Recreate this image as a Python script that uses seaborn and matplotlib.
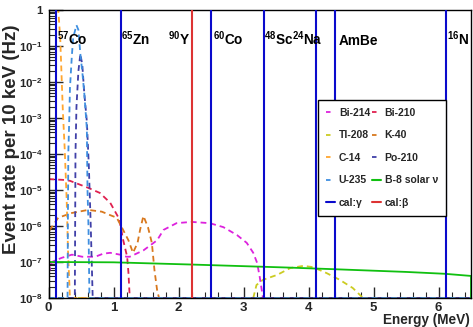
import numpy as np
import pandas as pd
import matplotlib
matplotlib.use("Agg")
import matplotlib.pyplot as plt
import matplotlib.transforms as mtrans
from matplotlib.lines import Line2D
from matplotlib.ticker import FixedLocator, FixedFormatter, MultipleLocator, NullFormatter
import seaborn as sns

# ---------------- data ----------------
bi214_x = [0.0, 0.02, 0.05, 0.2, 0.36, 0.52, 0.72, 0.84, 0.95, 1.1, 1.2, 1.25, 1.46, 1.67, 1.77, 1.97, 2.2, 2.48, 2.69, 2.9, 3.05, 3.15, 3.21, 3.25, 3.3, 6.5]
bi214_y = [1.4e-7, 6e-8, 1.0e-7, 1.3e-7, 1.6e-7, 1.4e-7, 1.4e-7, 1.7e-7, 1.8e-7, 1.6e-7, 1.4e-7, 1.4e-7, 2.1e-7, 4e-7, 7.8e-7, 1.2e-6, 1.3e-6, 1.2e-6, 9.3e-7, 5.6e-7, 3.4e-7, 1.8e-7, 9.4e-8, 3.8e-8, 1e-8, 1e-8]

bi210_x = [0.0, 0.02, 0.25, 0.33, 0.61, 0.79, 0.95, 1.07, 1.1, 1.15, 1.21, 1.23, 1.25, 6.5]
bi210_y = [2.0e-5, 2.0e-5, 1.9e-5, 1.8e-5, 1.15e-5, 8.3e-6, 4.4e-6, 1.8e-6, 1.2e-6, 4e-7, 1.4e-7, 5e-8, 1e-8, 1e-8]

tl208_x = [0.0, 3.15, 3.2, 3.3, 3.52, 3.72, 3.92, 4.07, 4.28, 4.48, 4.68, 4.84, 6.5]
tl208_y = [1e-8, 1e-8, 2.3e-8, 3.2e-8, 4.4e-8, 6.8e-8, 7.8e-8, 7.2e-8, 4.9e-8, 3.2e-8, 1.9e-8, 1e-8, 1e-8]

k40_x = [0.0, 0.02, 0.15, 0.36, 0.61, 0.82, 0.95, 1.05, 1.13, 1.23, 1.3, 1.37, 1.41, 1.46, 1.53, 1.59, 1.63, 1.67, 1.7, 6.5]
k40_y = [4e-7, 7.8e-7, 1.7e-6, 2.3e-6, 2.8e-6, 2.5e-6, 2.0e-6, 1.7e-6, 9e-7, 4e-7, 1.8e-7, 3.4e-7, 8e-7, 1.9e-6, 9.3e-7, 3.4e-7, 6e-8, 1.7e-8, 1e-8, 1e-8]

c14_x = [0.0, 0.15, 0.18, 0.22, 0.25, 0.28, 0.30, 0.33, 6.5]
c14_y = [3.0, 1.0, 0.17, 1.7e-3, 1.3e-4, 5e-6, 2.1e-7, 1e-8, 1e-8]

po210_x = [0.0, 0.405, 0.41, 0.415, 0.43, 0.46, 0.49, 0.52, 0.55, 0.59, 0.62, 0.65, 0.68, 6.5]
po210_y = [1e-8, 1e-8, 1e-6, 1e-4, 2e-3, 2e-2, 6e-2, 3e-2, 5e-3, 8e-4, 5e-5, 1e-6, 1e-8, 1e-8]

u235_x = [0.0, 0.293, 0.298, 0.305, 0.32, 0.33, 0.36, 0.38, 0.43, 0.46, 0.49, 0.52, 0.55, 0.59, 0.60, 0.615, 0.63, 6.5]
u235_y = [1e-8, 1e-8, 1e-6, 1.1e-4, 1e-3, 6.8e-3, 5.6e-2, 0.17, 0.38, 0.28, 0.06, 0.019, 5e-3, 5e-4, 1e-5, 1e-6, 1e-8, 1e-8]

b8_x = [0.0, 1.0, 2.2, 3.7, 4.4, 5.5, 6.1, 6.5, 6.5]
b8_y = [1.0e-7, 9.8e-8, 8.5e-8, 7.0e-8, 6.3e-8, 5.3e-8, 4.7e-8, 4.1e-8, 1e-8]

cal_gamma_E = [0.122, 1.115, 2.505, 3.31, 4.11, 4.41, 6.12]
cal_beta_E = [2.2]

cal_labels = ["$^{57}$Co", "$^{65}$Zn", "$^{90}$Y", "$^{60}$Co", "$^{48}$Sc", "$^{24}$Na", "AmBe", "$^{16}$N"]
cal_label_E = [0.13, 1.117, 1.84, 2.53, 3.32, 3.75, 4.47, 6.13]

series_names = ["Bi-214", "Bi-210", "Tl-208", "K-40", "C-14", "Po-210", "U-235", "B-8 solar \u03bd"]
series_x = [bi214_x, bi210_x, tl208_x, k40_x, c14_x, po210_x, u235_x, b8_x]
series_y = [bi214_y, bi210_y, tl208_y, k40_y, c14_y, po210_y, u235_y, b8_y]

y_ticks = [1e-8, 1e-7, 1e-6, 1e-5, 1e-4, 1e-3, 1e-2, 1e-1, 1]
y_ticklabels = ["$10^{-8}$", "$10^{-7}$", "$10^{-6}$", "$10^{-5}$", "$10^{-4}$", "$10^{-3}$", "$10^{-2}$", "$10^{-1}$", "1"]
x_ticks = [0, 1, 2, 3, 4, 5, 6]

# ---------------- style ----------------
colors = {
    "Bi-214": "#dd22dd",
    "Bi-210": "#e0204f",
    "Tl-208": "#cccc22",
    "K-40": "#d8781e",
    "C-14": "#ffa630",
    "Po-210": "#4040a8",
    "U-235": "#3f8fe0",
    "B-8 solar \u03bd": "#10c010",
}
cal_gamma_color = "#0a0acc"
cal_beta_color = "#dd3333"

sns.set_theme(style="white")
plt.rcParams["font.family"] = ["Liberation Sans", "DejaVu Sans"]
plt.rcParams["font.weight"] = "bold"
plt.rcParams["mathtext.fontset"] = "custom"
plt.rcParams["mathtext.rm"] = "Liberation Sans:bold"
plt.rcParams["mathtext.it"] = "Liberation Sans:bold"
plt.rcParams["mathtext.bf"] = "Liberation Sans:bold"
plt.rcParams["mathtext.default"] = "rm"

rows = []
for name, xs, ys in zip(series_names, series_x, series_y):
    for i, (xv, yv) in enumerate(zip(xs, ys)):
        rows.append({"series": name, "order": i, "E": xv, "rate": yv})
df = pd.DataFrame(rows)

fig = plt.figure(figsize=(4.73, 3.27), dpi=100)
ax = fig.add_axes([48.5 / 473, 1 - 298 / 327, (471 - 48.5) / 473, 288 / 327])

dash = (3.2, 2.2)
dashes = {n: dash for n in series_names}
dashes["B-8 solar \u03bd"] = ""
sns.lineplot(data=df, x="E", y="rate", hue="series", style="series",
             hue_order=series_names, style_order=series_names,
             palette=colors, dashes=dashes, estimator=None, sort=False,
             units="series", linewidth=1.3, legend=False, ax=ax)

for e in cal_gamma_E:
    ax.axvline(e, color=cal_gamma_color, lw=1.5, zorder=3)
for e in cal_beta_E:
    ax.axvline(e, color=cal_beta_color, lw=1.5, zorder=3)

ax.set_yscale("log")
ax.set_xlim(0, 6.5)
ax.set_ylim(1e-8, 1)

ax.yaxis.set_major_locator(FixedLocator(y_ticks))
ax.yaxis.set_major_formatter(FixedFormatter(y_ticklabels))
ax.xaxis.set_major_locator(FixedLocator(x_ticks))
ax.xaxis.set_minor_locator(MultipleLocator(0.2))
ax.tick_params(axis="y", which="major", direction="in", length=10, width=1, labelsize=8.2, pad=4, left=True, right=False)
ax.tick_params(axis="y", which="minor", direction="in", length=5, width=0.8, left=True, right=False)
ax.tick_params(axis="x", which="major", direction="in", length=8, width=1, labelsize=9.5, pad=3, bottom=True, top=False)
ax.tick_params(axis="x", which="minor", direction="in", length=4, width=0.8, bottom=True, top=False)
for lab in ax.get_xticklabels() + ax.get_yticklabels():
    lab.set_fontweight("bold")

for s in ax.spines.values():
    s.set_color("black")
    s.set_linewidth(1.0)

ax.set_xlabel("")
ax.set_ylabel("")

trans = mtrans.blended_transform_factory(ax.transData, ax.transAxes)
for lab, e in zip(cal_labels, cal_label_E):
    ax.text(e, 0.878, lab, transform=trans, ha="left", va="baseline",
            fontsize=9.8, fontweight="bold", color="black", zorder=5)

fig.text(470 / 473, 3 / 327, "Energy (MeV)", ha="right", va="baseline",
         fontsize=9.8, fontweight="bold")
fig.text(12 / 473, 1 - 139 / 327, "Event rate per 10 keV (Hz)", ha="center", va="center",
         rotation=90, fontsize=13.5, fontweight="bold")

# legend
def h(name):
    if name.startswith("B-8"):
        return Line2D([], [], color=colors[name], lw=1.5)
    return Line2D([], [], color=colors[name], lw=1.3, dashes=(2.5, 2.5))

handles = [h("Bi-214"), h("Tl-208"), h("C-14"), h("U-235"),
           Line2D([], [], color=cal_gamma_color, lw=1.5),
           h("Bi-210"), h("K-40"), h("Po-210"), h("B-8 solar \u03bd"),
           Line2D([], [], color=cal_beta_color, lw=1.5)]
labels = ["Bi-214", "Tl-208", "C-14", "U-235", "cal:\u03b3",
          "Bi-210", "K-40", "Po-210", "B-8 solar \u03bd", "cal:\u03b2"]
leg = fig.legend(handles, labels, ncol=2, loc="upper left",
                 bbox_to_anchor=(318 / 473, 1 - 100 / 327), bbox_transform=fig.transFigure,
                 prop={"size": 7.5, "weight": "bold"}, frameon=True, fancybox=False,
                 edgecolor="black", framealpha=1, borderpad=0.75, labelspacing=1.2,
                 handlelength=0.9, handletextpad=0.35, columnspacing=0.15, borderaxespad=0)
leg.get_frame().set_linewidth(1.0)

fig.savefig("out.png", dpi=100)
